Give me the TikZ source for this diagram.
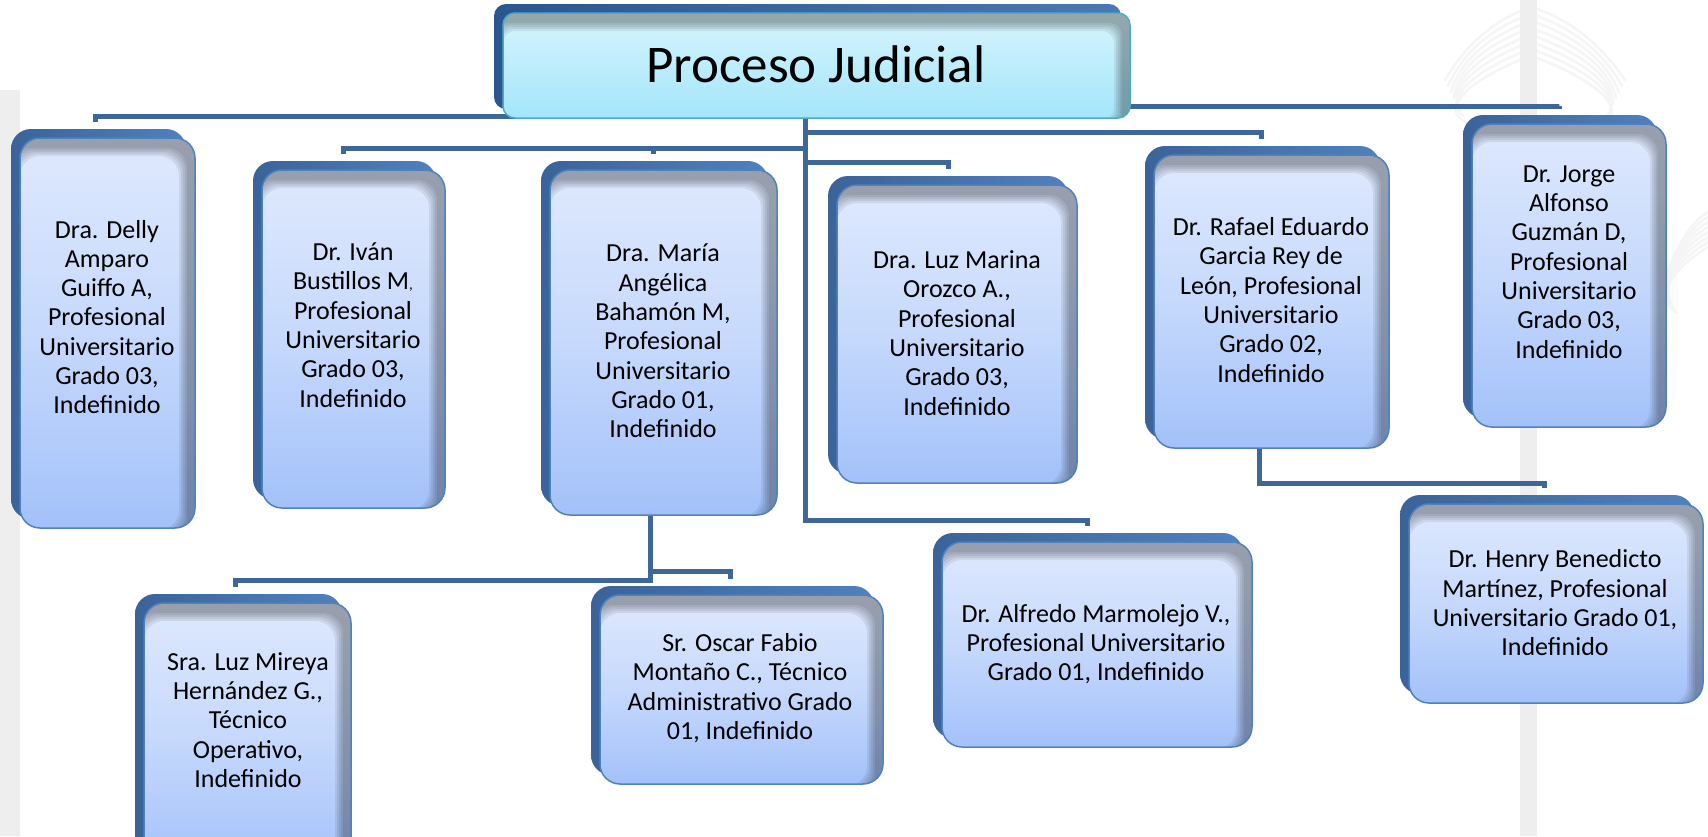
\documentclass[tikz,border=0pt]{standalone}
\usepackage{fontspec}
\setmainfont{Carlito}
\usetikzlibrary{fit,calc}
\pgfdeclarelayer{bg}
\pgfsetlayers{bg,main}
\definecolor{conncol}{HTML}{3F6698}
\definecolor{backA}{HTML}{3A6399}
\definecolor{backB}{HTML}{4F81BD}
\definecolor{frontTop}{HTML}{DFE9FD}
\definecolor{frontMid}{HTML}{C6D9FC}
\definecolor{frontBot}{HTML}{A3C1F9}
\definecolor{frontLine}{HTML}{4F81BD}
\definecolor{titleTop}{HTML}{D8F5FD}
\definecolor{titleBot}{HTML}{A3E5FA}
\definecolor{titleLine}{HTML}{4BACC6}
\definecolor{titleBackA}{HTML}{2B5690}
\definecolor{titleBackB}{HTML}{4A78B5}
\definecolor{palm}{HTML}{EEEEEE}
\definecolor{frond}{HTML}{F5F5F5}
\tikzset{
  conn/.style={draw=conncol, line width=5pt},
  boxtext/.style={align=center, inner sep=0pt, font=\fontsize{26}{29.3}\selectfont, text=black},
  orgback/.style={left color=backA, right color=backB},
  orgfront/.style={top color=frontTop, bottom color=frontBot, middle color=frontMid},
  orgfrontline/.style={draw=frontLine, line width=1.5pt},
  titleback/.style={left color=titleBackA, right color=titleBackB},
  titlefront/.style={top color=titleTop, bottom color=titleBot},
  titlefrontline/.style={draw=titleLine, line width=1.5pt},
  frondline/.style={draw=frond, line width=2.5pt, line cap=round},
}
% #1 name, #2 x1, #3 y1, #4 x2, #5 y2, #6 radius, #7 back style, #8 front style
\newcommand\orgbox[8]{%
  \shade[#7, rounded corners=#6pt, shift={(-9,-9)}] (#2,#3) rectangle (#4,#5);
  \shade[#8, rounded corners=#6pt] (#2,#3) rectangle (#4,#5);
  \begin{scope}
    \clip[rounded corners=#6pt] (#2,#3) rectangle (#4,#5);
    \foreach \k in {0,2,4,6,8}{
      \fill[black, opacity=0.07, even odd rule] ({#2-40},{#3-40}) rectangle ({#4+40},{#5+40})
        [rounded corners=#6pt] ({#2-8+\k},{#3+10+\k}) rectangle ({#4-8-\k},{#5+10-\k});
    }
  \end{scope}
  \draw[#8line, rounded corners=#6pt] (#2,#3) rectangle (#4,#5);
  \coordinate (#1-nw) at (#2,#3);
  \coordinate (#1-se) at (#4,#5);
  \node[fit=(#1-nw)(#1-se), inner sep=0pt] (#1) {};
}
\begin{document}
\begin{tikzpicture}[x=1pt,y=-1pt]
\clip (0,0) rectangle (1708,836);

% white page and faint palm watermark
\begin{pgfonlayer}{bg}
  \fill[white] (0,0) rectangle (1708,836);
  \foreach \a in {0,...,7}{
    \draw[frondline] (1528,{8+\a*7}) .. controls ({1500-\a*5},{18+\a*9}) and ({1468-\a*4},{40+\a*10}) .. ({1445+\a*3},{80+\a*6});
    \draw[frondline] (1534,{8+\a*7}) .. controls ({1565+\a*5},{18+\a*9}) and ({1598+\a*4},{40+\a*10}) .. ({1625-\a*3},{80+\a*6});
    \draw[frondline] (1708,{212+\a*5}) .. controls ({1690-\a*3},{222+\a*7}) and ({1676-\a*3},{248+\a*7}) .. ({1662+\a*2},{285+\a*4});
  }
  \fill[palm] (1520,0) rectangle (1537,836);
  \fill[palm] (0,90) rectangle (20,836);
\end{pgfonlayer}

% boxes
\orgbox{title}{503}{13}{1130}{118}{12}{titleback}{titlefront}
\node[font=\fontsize{53}{60}\selectfont, anchor=base, inner sep=0pt] (title-t) at (816,82) {Proceso Judicial};

\orgbox{delly}{20}{138}{195}{528}{20}{orgback}{orgfront}
\node[boxtext] (delly-t) at (107,317) {Dra. Delly\\Amparo\\Guiffo A,\\Profesional\\Universitario\\Grado 03,\\Indefinido};

\orgbox{ivan}{262}{170}{445}{508}{20}{orgback}{orgfront}
\node[boxtext] (ivan-t) at (353,325) {Dr. Iván\\Bustillos M{\fontsize{15}{15}\selectfont,}\\Profesional\\Universitario\\Grado 03,\\Indefinido};

\orgbox{maria}{550}{170}{777}{515}{20}{orgback}{orgfront}
\node[boxtext] (maria-t) at (663,341) {Dra. María\\Angélica\\Bahamón M,\\Profesional\\Universitario\\Grado 01,\\Indefinido};

\orgbox{luzmarina}{837}{185}{1077}{483}{20}{orgback}{orgfront}
\node[boxtext] (luzmarina-t) at (957,333) {Dra. Luz Marina\\Orozco A.,\\Profesional\\Universitario\\Grado 03,\\Indefinido};

\orgbox{rafael}{1154}{155}{1389}{448}{20}{orgback}{orgfront}
\node[boxtext] (rafael-t) at (1271,300) {Dr. Rafael Eduardo\\Garcia Rey de\\León, Profesional\\Universitario\\Grado 02,\\Indefinido};

\orgbox{jorge}{1472}{124}{1666}{427}{20}{orgback}{orgfront}
\node[boxtext] (jorge-t) at (1569,262) {Dr. Jorge\\Alfonso\\Guzmán D,\\Profesional\\Universitario\\Grado 03,\\Indefinido};

\orgbox{mireya}{144}{603}{351}{870}{20}{orgback}{orgfront}
\node[boxtext] (mireya-t) at (248,720) {Sra. Luz Mireya\\Hernández G.,\\Técnico\\Operativo,\\Indefinido};

\orgbox{oscar}{600}{595}{883}{784}{20}{orgback}{orgfront}
\node[boxtext] (oscar-t) at (740,688) {Sr. Oscar Fabio\\Montaño C., Técnico\\Administrativo Grado\\01, Indefinido};

\orgbox{alfredo}{942}{542}{1252}{747}{20}{orgback}{orgfront}
\node[boxtext] (alfredo-t) at (1096,644) {Dr. Alfredo Marmolejo V.,\\Profesional Universitario\\Grado 01, Indefinido};

\orgbox{henry}{1409}{504}{1703}{703}{20}{orgback}{orgfront}
\node[boxtext] (henry-t) at (1555,603) {Dr. Henry Benedicto\\Martínez, Profesional\\Universitario Grado 01,\\Indefinido};

% connectors (behind boxes); each ends a little above the box it serves
\begin{pgfonlayer}{bg}
  \coordinate (trunk) at ([xshift=-11pt]title.south);
  \draw[conn] ([xshift=-12pt,yshift=16pt]delly.north) |- ([yshift=2pt]title.south);
  \draw[conn] ([xshift=-10pt,yshift=18pt]jorge.north) |- ([yshift=12pt]title.south);
  \draw[conn] (trunk) |- (1087,520) -- ([xshift=-10pt,yshift=16pt]alfredo.north);
  \draw[conn] (trunk |- 0,132) -| ([xshift=-10pt,yshift=16pt]rafael.north);
  \draw[conn] (trunk |- 0,162) -| ([xshift=-9pt,yshift=16pt]luzmarina.north);
  \draw[conn] (trunk |- 0,148) -| ([xshift=-10pt,yshift=16pt]maria.north);
  \draw[conn] (trunk |- 0,148) -| ([xshift=-10pt,yshift=16pt]ivan.north);
  \draw[conn] ([xshift=-13pt]maria.south) -- ++(0,65) -| ([xshift=-12pt,yshift=16pt]mireya.north);
  \draw[conn] ([xshift=-13pt]maria.south) -- ++(0,56) -| ([xshift=-11pt,yshift=16pt]oscar.north);
  \draw[conn] ([xshift=-12pt]rafael.south) -- ++(0,35) -| ([xshift=-12pt,yshift=16pt]henry.north);
\end{pgfonlayer}
\end{tikzpicture}
\end{document}
